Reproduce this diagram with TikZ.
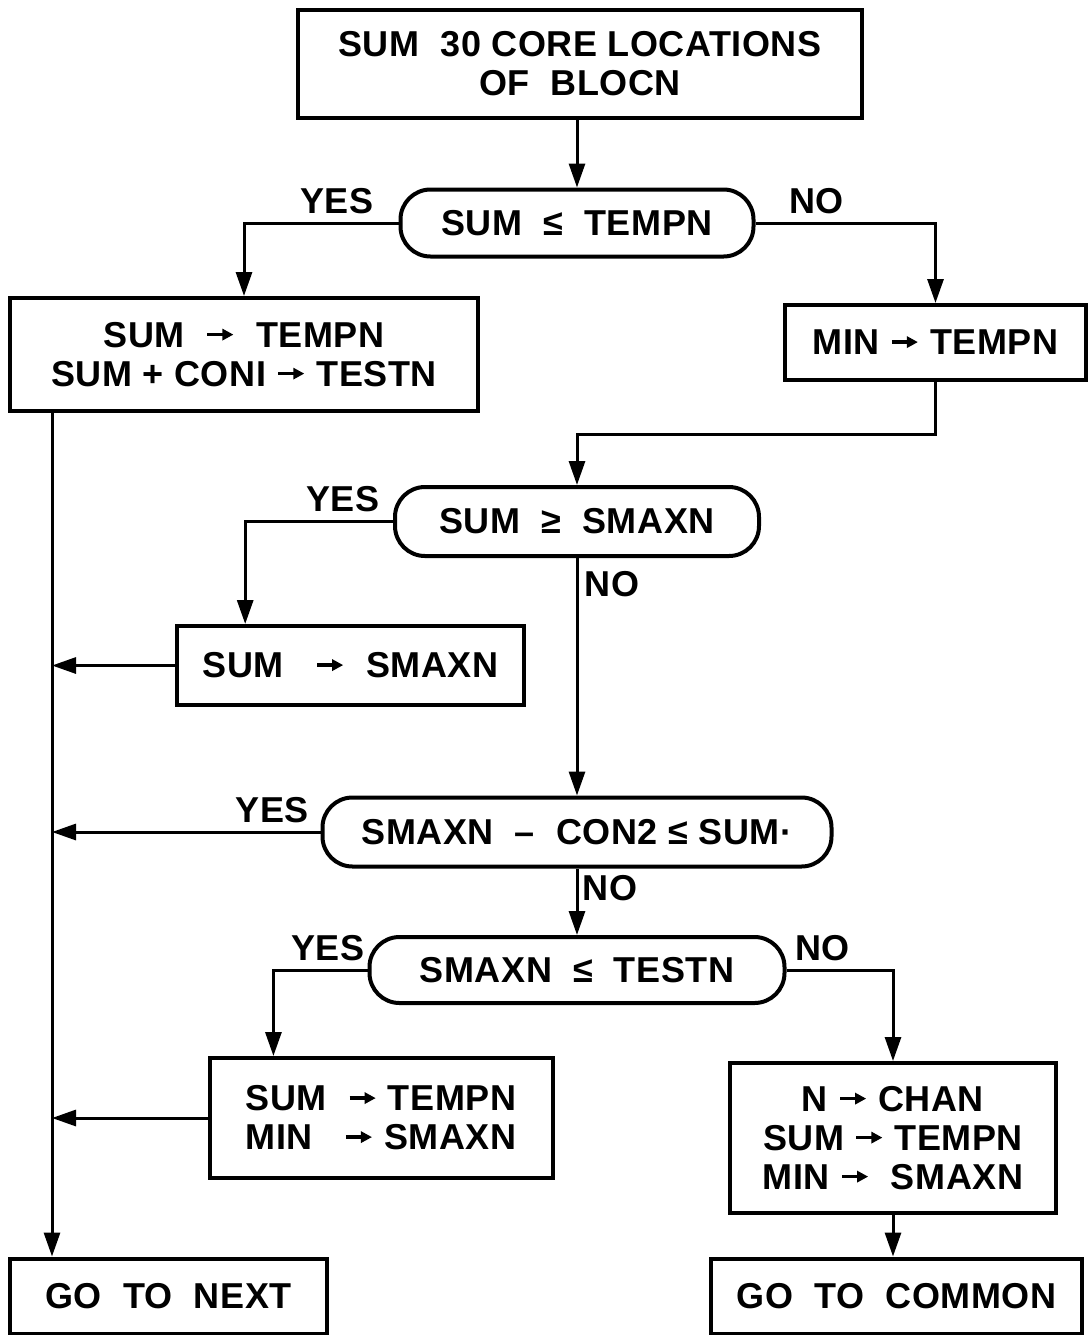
\documentclass[tikz,border=0pt]{standalone}
\usepackage{fontspec}
\setmainfont{Liberation Sans}[LetterSpace=1.5]
\usetikzlibrary{arrows.meta,calc,positioning}
\newcommand{\MoveTo}{%
  \tikz[baseline=0pt,x=1pt,y=1pt]{
    \draw[line width=1.7pt,-{Triangle[length=5.5pt,width=5.5pt]}] (0,6.4) -- (13,6.4);
  }%
}
\tikzset{
  box/.style={draw=black,line width=2pt,align=center,inner sep=2pt,font=\fontsize{18}{19.5}\selectfont\bfseries},
  decision/.style={box,rounded corners=15pt},
  lbl/.style={inner sep=1pt,font=\fontsize{18}{19.5}\selectfont\bfseries},
  link/.style={line width=1.5pt},
  arr/.style={link,-{Triangle[length=12pt,width=8pt]}}
}

\begin{document}
\begin{tikzpicture}[x=0.5pt,y=-0.5pt]
  \useasboundingbox (0,0) rectangle (1088,1335);

  % Boxes and tests
  \node[box,minimum width=282pt,minimum height=54pt] (sum) at (580,64) {SUM\ \ 30 CORE LOCATIONS\\OF\ \ BLOCN};
  \node[decision,minimum width=176.5pt,minimum height=33.5pt] (test1) at (577,223) {SUM\ \ ≤ \ TEMPN};
  \node[box,minimum width=234pt,minimum height=56.5pt] (upd) at (244,354.5) {SUM\ \ \MoveTo\ \ TEMPN\\SUM + CONI \MoveTo\ TESTN};
  \node[box,minimum width=150.5pt,minimum height=37.5pt] (mintmp) at (935.5,342.5) {MIN \MoveTo\ TEMPN};
  \node[decision,minimum width=182pt,minimum height=34.5pt] (test2) at (577,521.5) {SUM\ \ ≥ \ SMAXN};
  \node[box,minimum width=173.5pt,minimum height=39.5pt] (setmax) at (350.5,665.5) {SUM\ \ \ \MoveTo\ \ SMAXN};
  \node[decision,minimum width=254.5pt,minimum height=34.5pt] (test3) at (577,832) {SMAXN\ \ – \ CON2 ≤ SUM·};
  \node[decision,minimum width=207.5pt,minimum height=33pt] (test4) at (577,970) {SMAXN\ \ ≤ \ TESTN};
  \node[box,minimum width=171.5pt,minimum height=60pt] (reset) at (381,1118) {SUM\ \ \MoveTo\ TEMPN\\MIN\ \ \ \MoveTo\ SMAXN};
  \node[box,minimum width=163pt,minimum height=75pt] (chan) at (893,1138) {N \MoveTo\ CHAN\\SUM \MoveTo\ TEMPN\\MIN \MoveTo\ \ SMAXN};
  \node[box,minimum width=158.5pt,minimum height=37.5pt] (next) at (168.5,1296) {GO\ \ TO\ \ NEXT};
  \node[box,minimum width=185.5pt,minimum height=37.5pt] (common) at (896.5,1296) {GO\ \ TO\ \ COMMON};

  % Left collecting line
  \coordinate (trunk) at ($(upd.south west)+(44,0)$);
  \draw[arr] (trunk) -- (trunk |- next.north);

  % Connectors
  \draw[arr] (sum.south -| test1.north) -- (test1.north);
  \draw[arr] (test1.west) -| node[lbl,pos=0.2,above=3pt] (yes1) {YES} (upd.north);
  \draw[arr] (test1.east) -| node[lbl,pos=0.17,above=3pt] (no1) {NO} (mintmp.north);
  \draw[arr] (mintmp.south) -- ++(0,52) -| (test2.north);
  \draw[arr] (test2.west) -| node[lbl,pos=0.17,above=3pt] (yes2) {YES} ($(setmax.north west)!0.2!(setmax.north east)$);
  \draw[arr] (test2.south) -- node[lbl,pos=0.11,right=2pt] (no2) {NO} (test3.north);
  \draw[arr] (setmax.west) -- (setmax.west -| trunk);
  \draw[arr] (test3.west) -- node[lbl,pos=0.18,above=3pt] (yes3) {YES} (test3.west -| trunk);
  \draw[arr] (test3.south) -- node[lbl,pos=0.3,right=1pt] (no3) {NO} (test4.north);
  \draw[arr] (test4.west) -| node[lbl,pos=0.21,above=3pt] (yes4) {YES} ($(reset.north west)!0.19!(reset.north east)$);
  \draw[arr] (test4.east) -| node[lbl,pos=0.17,above=3pt] (no4) {NO} (chan.north);
  \draw[arr] (reset.west) -- (reset.west -| trunk);
  \draw[arr] (chan.south) -- (chan.south |- common.north);
\end{tikzpicture}
\end{document}
